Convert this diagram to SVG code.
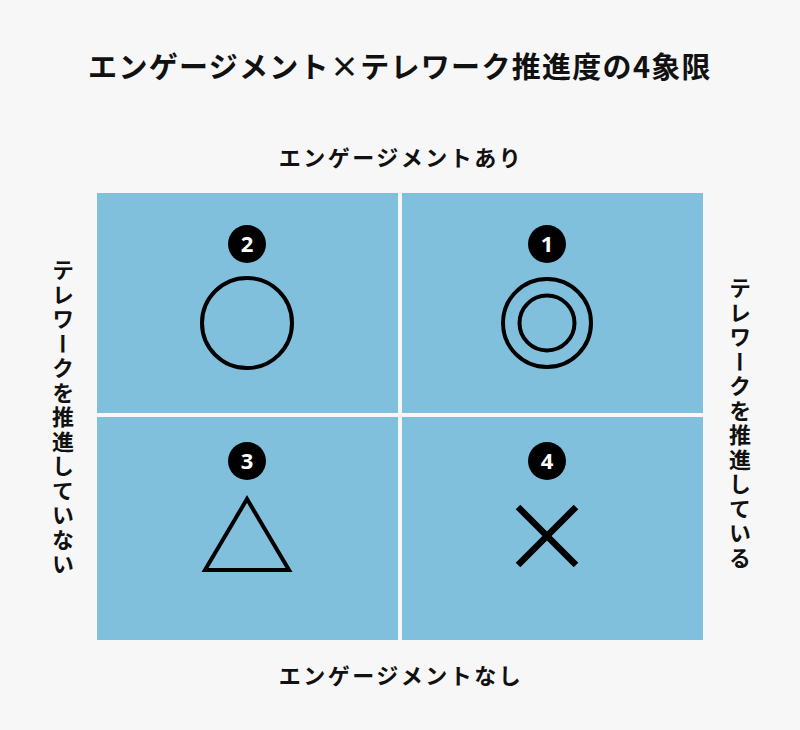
<svg xmlns="http://www.w3.org/2000/svg" width="800" height="730" viewBox="0 0 800 730">
<style>
.t{font-family:"Noto Sans CJK JP","Noto Sans",sans-serif;font-weight:700;fill:#111;}
.lbl{font-size:22px;letter-spacing:2.5px;text-anchor:middle;}
.vt{font-size:22px;letter-spacing:2.5px;text-anchor:middle;writing-mode:vertical-rl;}
.num{font-family:"Noto Sans","Liberation Sans",sans-serif;font-weight:700;font-size:22px;fill:#fff;text-anchor:middle;}
.badge{fill:#000;}
.sym{fill:none;stroke:#000;stroke-width:4;}
.cross{fill:none;stroke:#000;stroke-width:6.5;}
.q{fill:#80c0dd;}
</style>
<rect width="800" height="730" fill="#f7f7f7"/>
<text class="t" x="400" y="78" font-size="29" text-anchor="middle" letter-spacing="1.3" font-weight="900">エンゲージメント×テレワーク推進度の4象限</text>
<text class="t lbl" x="401" y="166">エンゲージメントあり</text>
<text class="t lbl" x="401" y="684">エンゲージメントなし</text>
<text class="t vt" x="63" y="418">テレワークを推進していない</text>
<text class="t vt" x="740" y="424">テレワークを推進している</text>
<g id="q2">
<rect class="q" x="97" y="193" width="301" height="220"/>
<circle class="badge" cx="247" cy="244" r="19"/>
<text class="num" x="247" y="252">2</text>
<circle class="sym" cx="247" cy="323" r="45"/>
</g>
<g id="q1">
<rect class="q" x="402" y="193" width="301" height="220"/>
<circle class="badge" cx="547" cy="244" r="19"/>
<text class="num" x="547" y="252">1</text>
<circle class="sym" cx="547" cy="323" r="44"/>
<circle class="sym" cx="547" cy="323" r="27.5"/>
</g>
<g id="q3">
<rect class="q" x="97" y="417" width="301" height="223"/>
<circle class="badge" cx="247" cy="461" r="19"/>
<text class="num" x="247" y="469">3</text>
<polygon class="sym" points="247,499 205,570 289,570"/>
</g>
<g id="q4">
<rect class="q" x="402" y="417" width="301" height="223"/>
<circle class="badge" cx="547" cy="461" r="19"/>
<text class="num" x="547" y="469">4</text>
<path class="cross" d="M518,507 L576,565 M576,507 L518,565"/>
</g>
</svg>
